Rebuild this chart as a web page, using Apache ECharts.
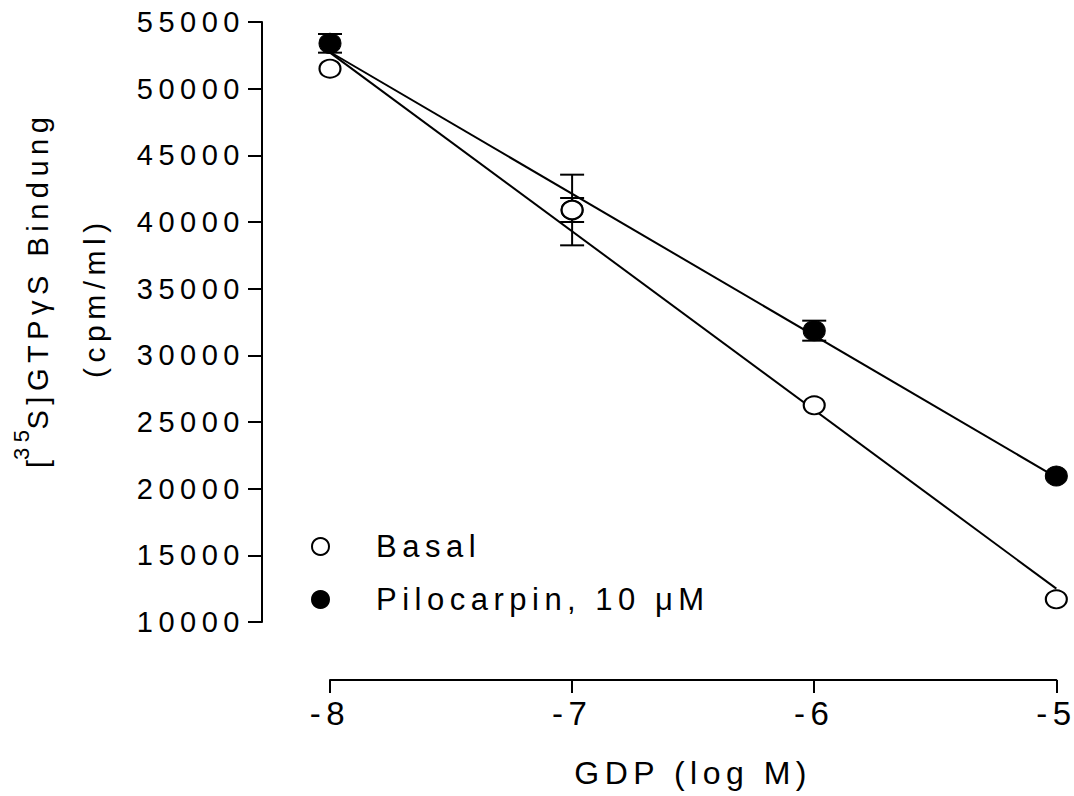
<!DOCTYPE html>
<html>
<head>
<meta charset="utf-8">
<script src="https://cdn.jsdelivr.net/npm/echarts@6/dist/echarts.min.js"></script>
<style>
  html, body { margin: 0; padding: 0; background: #fff; }
  #main { width: 1074px; height: 796px; }
  /* Prism-Export hat gesperrte Schrift */
  #main text { letter-spacing: 5.5px; }
</style>
</head>
<body>
<div id="main"></div>
<script>
// x-Werte: GDP (log M)
var gdpLog = [-8, -7, -6, -5];
// Mittelwerte und SEM
var basalMean = [51500, 40900, 26250, 11700];
var basalSem = [300, 2650, 300, 300];
var piloMean = [53400, 40900, 31850, 20950];
var piloSem = [700, 900, 750, 300];
// Regressionsgeraden (Endpunkte bei -8 und -5)
var fitX = [-8, -5];
var basalFit = [52700, 12500];
var piloFit = [52750, 20850];
var yTicks = { min: 10000, max: 55000, step: 5000 };

function pairs(xs, ys) {
    return xs.map(function (x, i) { return [x, ys[i]]; });
}
function errData(xs, m, s) {
    return xs.map(function (x, i) { return [x, m[i], s[i]]; });
}

function errorBars(params, api) {
    var x = api.value(0), m = api.value(1), s = api.value(2);
    var hi = api.coord([x, m + s]);
    var lo = api.coord([x, m - s]);
    // Balken kürzer als das Symbol werden nicht gezeichnet
    if ((lo[1] - hi[1]) / 2 < 8) return;
    var w = 12;
    var st = { stroke: '#000', lineWidth: 2 };
    return {
        type: 'group',
        children: [
            { type: 'line', shape: { x1: hi[0], y1: hi[1], x2: lo[0], y2: lo[1] }, style: st },
            { type: 'line', shape: { x1: hi[0] - w, y1: hi[1], x2: hi[0] + w, y2: hi[1] }, style: st },
            { type: 'line', shape: { x1: lo[0] - w, y1: lo[1], x2: lo[0] + w, y2: lo[1] }, style: st }
        ]
    };
}

var myChart = echarts.init(document.getElementById('main'), null, { renderer: 'svg' });

var font = 'Liberation Sans, Arial, sans-serif';

var option = {
    animation: false,
    backgroundColor: '#fff',
    textStyle: { fontFamily: font, color: '#000' },
    grid: { left: 330, right: 16, top: 22, bottom: 174 },
    xAxis: {
        type: 'value',
        min: -8, max: -5, interval: 1,
        offset: 58,
        splitLine: { show: false },
        axisLine: { lineStyle: { color: '#000', width: 2 } },
        axisTick: { length: 13, lineStyle: { color: '#000', width: 2 } },
        axisLabel: { color: '#000', fontSize: 33, margin: 17, fontFamily: font },
        name: 'GDP (log M)',
        nameLocation: 'middle',
        nameGap: 77,
        nameTextStyle: { color: '#000', fontSize: 32, fontFamily: font }
    },
    yAxis: {
        type: 'value',
        min: yTicks.min, max: yTicks.max, interval: yTicks.step,
        offset: 68,
        splitLine: { show: false },
        axisLine: { show: true, lineStyle: { color: '#000', width: 2 } },
        axisTick: { show: true, length: 14, lineStyle: { color: '#000', width: 2 } },
        axisLabel: {
            color: '#000', fontSize: 29, margin: 17, fontFamily: font,
            formatter: function (v) { return String(v); }
        }
    },
    legend: {
        orient: 'vertical',
        left: 306, top: 526,
        itemWidth: 17, itemHeight: 17,
        itemGap: 22,
        data: ['Basal', 'Pilocarpin, 10 μM'],
        textStyle: { color: '#000', fontSize: 31, fontFamily: font, padding: [0, 0, 0, 42] }
    },
    graphic: [
        {
            type: 'text',
            x: 52, y: 468,
            rotation: Math.PI / 2,
            style: {
                text: '{b|[}{s|35}{b|S]GTPγS Bindung}',
                align: 'left',
                verticalAlign: 'bottom',
                fill: '#000',
                rich: {
                    b: { fontSize: 29, fontFamily: font, verticalAlign: 'bottom', lineHeight: 32 },
                    s: { fontSize: 22, fontFamily: font, verticalAlign: 'bottom', lineHeight: 22, padding: [0, 6, 20, 0] }
                }
            }
        },
        {
            type: 'text',
            x: 94, y: 378,
            rotation: Math.PI / 2,
            style: {
                text: '(cpm/ml)',
                align: 'left',
                verticalAlign: 'middle',
                fill: '#000',
                fontSize: 30,
                fontFamily: font
            }
        }
    ],
    series: [
        {
            type: 'line', name: 'fitBasal', z: 1, silent: true, clip: false,
            symbol: 'none',
            data: pairs(fitX, basalFit),
            lineStyle: { color: '#000', width: 2 }
        },
        {
            type: 'line', name: 'fitPilo', z: 1, silent: true, clip: false,
            symbol: 'none',
            data: pairs(fitX, piloFit),
            lineStyle: { color: '#000', width: 2 }
        },
        {
            type: 'custom', name: 'errPilo', z: 2, clip: false,
            renderItem: errorBars,
            data: errData(gdpLog, piloMean, piloSem)
        },
        {
            type: 'custom', name: 'errBasal', z: 2, clip: false,
            renderItem: errorBars,
            data: errData(gdpLog, basalMean, basalSem)
        },
        {
            type: 'scatter', name: 'Pilocarpin, 10 μM', z: 3, clip: false,
            symbol: 'circle', symbolSize: [22, 20],
            itemStyle: { color: '#000', borderColor: '#000', borderWidth: 1, opacity: 1 },
            data: pairs(gdpLog, piloMean)
        },
        {
            type: 'scatter', name: 'Basal', z: 4, clip: false,
            symbol: 'circle', symbolSize: [21, 18],
            itemStyle: { color: '#fff', borderColor: '#000', borderWidth: 2, opacity: 1 },
            data: pairs(gdpLog, basalMean)
        }
    ]
};

myChart.setOption(option);
</script>
</body>
</html>
